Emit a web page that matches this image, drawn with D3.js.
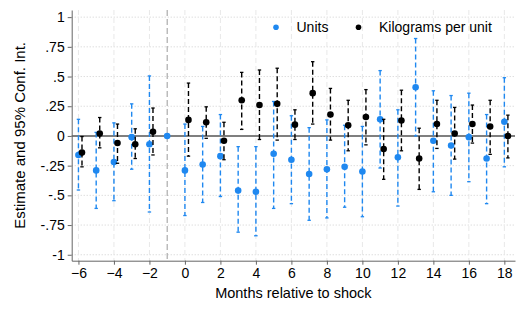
<!DOCTYPE html>
<html>
<head>
<meta charset="utf-8">
<script src="https://cdn.jsdelivr.net/npm/d3@7"></script>
<style>
  body { margin: 0; background: #fff; }
  text { font-family: "Liberation Sans", Arial, sans-serif; }
</style>
</head>
<body>
<div id="chart-container"></div>
<script>
const months = [-6, -5, -4, -3, -2, -1, 0, 1, 2, 3, 4, 5, 6, 7, 8, 9, 10, 11, 12, 13, 14, 15, 16, 17, 18];

// Units
const unitsEst = [-0.16, -0.29, -0.22, -0.01, -0.07, 0, -0.29, -0.24, -0.17, -0.46, -0.47, -0.15, -0.20, -0.32, -0.28, -0.26, -0.30, 0.14, -0.18, 0.41, -0.04, -0.08, -0.01, -0.19, 0.12];
const unitsLo = [-0.455, -0.61, -0.545, -0.28, -0.64, null, -0.67, -0.56, -0.51, -0.81, -0.84, -0.61, -0.57, -0.71, -0.69, -0.60, -0.68, -0.27, -0.59, 0.00, -0.47, -0.50, -0.385, -0.57, -0.26];
const unitsHi = [0.14, 0.03, 0.11, 0.27, 0.505, null, 0.10, 0.08, 0.18, -0.09, -0.09, 0.29, 0.17, 0.07, 0.135, 0.09, 0.08, 0.55, 0.22, 0.82, 0.38, 0.34, 0.36, 0.18, 0.49];

// Kilograms per unit
const kgEst = [-0.14, 0.02, -0.06, -0.07, 0.035, null, 0.135, 0.115, -0.04, 0.30, 0.26, 0.27, 0.095, 0.36, 0.18, 0.09, 0.16, -0.11, 0.13, -0.19, 0.10, 0.02, 0.10, 0.08, 0.00];
const kgLo = [-0.26, -0.10, -0.23, -0.19, -0.16, null, -0.17, -0.02, -0.20, 0.055, -0.03, -0.035, -0.03, 0.10, -0.035, -0.125, -0.075, -0.365, -0.125, -0.45, -0.105, -0.195, -0.06, -0.155, -0.185];
const kgHi = [-0.005, 0.155, 0.10, 0.06, 0.235, null, 0.445, 0.245, 0.115, 0.535, 0.555, 0.57, 0.22, 0.625, 0.40, 0.30, 0.39, 0.14, 0.385, 0.065, 0.30, 0.24, 0.26, 0.30, 0.175];

const xTicks = [-6, -4, -2, 0, 2, 4, 6, 8, 10, 12, 14, 16, 18];
const yTicks = [-1, -0.75, -0.5, -0.25, 0, 0.25, 0.5, 0.75, 1];
const yTickLabels = ['-1', '-.75', '-.5', '-.25', '0', '.25', '.5', '.75', '1'];

const width = 526, height = 316;
const plot = { left: 71.7, right: 515, top: 10, bottom: 260.7 };

const svg = d3.select('#chart-container')
  .append('svg')
  .attr('width', width)
  .attr('height', height);

const x = d3.scaleLinear().domain([-6.38, 18.6]).range([plot.left, plot.right]);
const y = d3.scaleLinear().domain([-1.05, 1.06]).range([plot.bottom, plot.top]);

// grid
svg.append('g').selectAll('line')
  .data(yTicks.filter(d => d !== 0))
  .enter().append('line')
  .attr('x1', plot.left).attr('x2', plot.right)
  .attr('y1', d => y(d)).attr('y2', d => y(d))
  .attr('stroke', '#cfcfcf')
  .attr('stroke-dasharray', '1,2');

svg.append('g').selectAll('line')
  .data(xTicks)
  .enter().append('line')
  .attr('x1', d => x(d)).attr('x2', d => x(d))
  .attr('y1', plot.top).attr('y2', plot.bottom)
  .attr('stroke', '#e8e8e8')
  .attr('stroke-dasharray', '5,3');

// shock line and zero line
svg.append('line')
  .attr('x1', x(-1)).attr('x2', x(-1))
  .attr('y1', plot.top).attr('y2', plot.bottom)
  .attr('stroke', '#9a9a9a')
  .attr('stroke-dasharray', '6,3');

svg.append('line')
  .attr('x1', plot.left).attr('x2', plot.right)
  .attr('y1', y(0)).attr('y2', y(0))
  .attr('stroke', '#555')
  .attr('stroke-width', 1.6);

// axes
const yAxis = svg.append('g')
  .attr('transform', `translate(${plot.left},0)`)
  .call(d3.axisLeft(y).tickValues(yTicks).tickSize(4).tickSizeOuter(0).tickPadding(3)
    .tickFormat((d, i) => yTickLabels[i]));

const xAxis = svg.append('g')
  .attr('transform', `translate(0,${plot.bottom})`)
  .call(d3.axisBottom(x).tickValues(xTicks).tickSize(4).tickSizeOuter(0).tickPadding(3));

[yAxis, xAxis].forEach(a => {
  a.select('.domain').attr('stroke', '#666');
  a.selectAll('.tick line').attr('stroke', '#666');
  a.selectAll('.tick text').attr('fill', '#000').style('font-size', '14px');
});

svg.append('text')
  .attr('x', (plot.left + plot.right) / 2)
  .attr('y', 298)
  .attr('text-anchor', 'middle')
  .style('font-size', '14.5px')
  .text('Months relative to shock');

svg.append('text')
  .attr('transform', `translate(25,${(plot.top + plot.bottom) / 2}) rotate(-90)`)
  .attr('text-anchor', 'middle')
  .style('font-size', '15px')
  .text('Estimate and 95% Conf. Int.');

// series
const series = [
  { name: 'Units', color: '#1f88f0', shift: 0, est: unitsEst, lo: unitsLo, hi: unitsHi },
  { name: 'Kilograms per unit', color: '#000', shift: 0.2, est: kgEst, lo: kgLo, hi: kgHi }
];

series.forEach(s => {
  const rows = months.map((m, i) => ({ m: m + s.shift, est: s.est[i], lo: s.lo[i], hi: s.hi[i] }));
  const g = svg.append('g');
  const ci = rows.filter(d => d.lo !== null);

  g.selectAll('.ci')
    .data(ci)
    .enter().append('line')
    .attr('x1', d => x(d.m)).attr('x2', d => x(d.m))
    .attr('y1', d => y(d.hi)).attr('y2', d => y(d.lo))
    .attr('stroke', s.color)
    .attr('stroke-width', 1.4)
    .attr('stroke-dasharray', '5,3');

  ['lo', 'hi'].forEach(k => {
    g.selectAll('.cap-' + k)
      .data(ci)
      .enter().append('line')
      .attr('x1', d => x(d.m) - 1.7).attr('x2', d => x(d.m) + 1.7)
      .attr('y1', d => y(d[k])).attr('y2', d => y(d[k]))
      .attr('stroke', s.color)
      .attr('stroke-width', 1.3);
  });

  g.selectAll('circle')
    .data(rows.filter(d => d.est !== null))
    .enter().append('circle')
    .attr('cx', d => x(d.m))
    .attr('cy', d => y(d.est))
    .attr('r', 3.3)
    .attr('fill', s.color);
});

// legend
const legend = [
  { name: 'Units', color: '#1f88f0', x: 276 },
  { name: 'Kilograms per unit', color: '#000', x: 358.5 }
];

legend.forEach(l => {
  svg.append('circle')
    .attr('cx', l.x).attr('cy', 27.3)
    .attr('r', 2.8)
    .attr('fill', l.color);
  svg.append('text')
    .attr('x', l.x + 20.5)
    .attr('y', 32.3)
    .style('font-size', '14px')
    .text(l.name);
});
</script>
</body>
</html>
